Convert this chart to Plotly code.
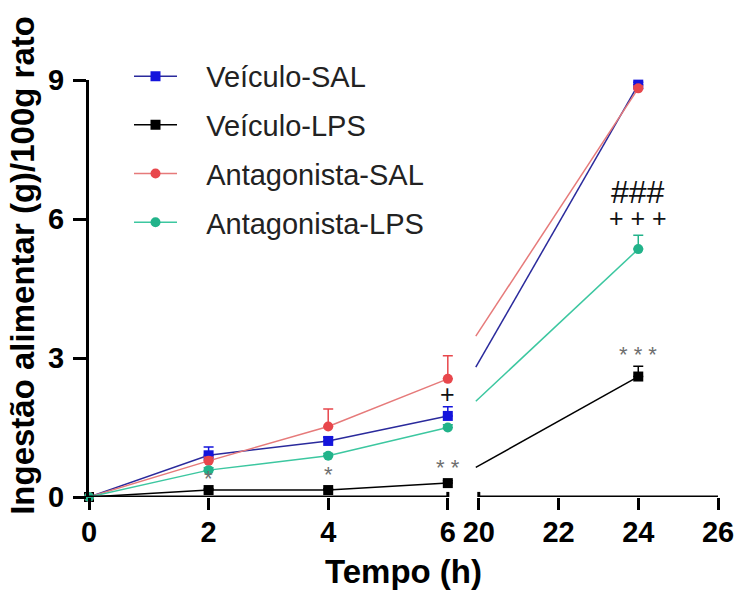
import plotly.graph_objects as go

# ---------------- data ----------------
times = [0, 2, 4, 6, 24]
x_tick_hours = [0, 2, 4, 6, 20, 22, 24, 26]
y_ticks = [0, 3, 6, 9]

series_names = ["Veículo-SAL", "Veículo-LPS", "Antagonista-SAL", "Antagonista-LPS"]
veiculo_sal = [0.0, 0.90, 1.21, 1.75, 8.90]
veiculo_sal_err = [0.0, 0.18, 0.08, 0.20, 0.05]
veiculo_lps = [0.0, 0.15, 0.15, 0.30, 2.60]
veiculo_lps_err = [0.0, 0.03, 0.03, 0.05, 0.22]
antag_sal = [0.0, 0.78, 1.52, 2.55, 8.82]
antag_sal_err = [0.0, 0.08, 0.38, 0.50, 0.05]
antag_lps = [0.0, 0.58, 0.89, 1.50, 5.35]
antag_lps_err = [0.0, 0.05, 0.05, 0.06, 0.30]

# significance labels: (time, value, text)
sig_labels = [
    (2, 0.40, "*"), (4, 0.48, "*"), (6, 0.64, "* *"), (24, 3.08, "* * *"),
]
plus_labels = [(6, 2.22, "+"), (24, 6.02, "+ + +")]
hash_labels = [(24, 6.58, "###")]

# ---------------- broken axis mapping ----------------
SEG1_END = 6
SEG2_START = 20
GAP = 0.518          # gap width in first-segment units
K2 = 2.0 / 3.0       # compression of second segment
U20 = SEG1_END + GAP


def u(t):
    return t if t <= SEG1_END else U20 + (t - SEG2_START) * K2


U_END = u(26)
U_CLIP = U20 - 0.05

FONT = "Liberation Sans, Arial, sans-serif"
NB = "\u00a0\u00a0\u00a0"

styles = [
    dict(mc="#1414dc", lc="#2a2a9c", sym="square"),
    dict(mc="#000000", lc="#000000", sym="square"),
    dict(mc="#e8474c", lc="#e67a7a", sym="circle"),
    dict(mc="#22b38a", lc="#3cc7a0", sym="circle"),
]
all_vals = [veiculo_sal, veiculo_lps, antag_sal, antag_lps]
all_errs = [veiculo_sal_err, veiculo_lps_err, antag_sal_err, antag_lps_err]

fig = go.Figure()

# connector lines across the axis break (visible only in the 2nd segment)
for vals, st in zip(all_vals, styles):
    u6, u24 = u(times[3]), u(times[4])
    y6, y24 = vals[3], vals[4]
    yc = y6 + (y24 - y6) * (U_CLIP - u6) / (u24 - u6)
    fig.add_trace(go.Scatter(
        x=[U_CLIP, u24], y=[yc, y24], mode="lines",
        line=dict(color=st["lc"], width=1.5),
        showlegend=False, hoverinfo="skip", cliponaxis=False))

for name, vals, errs, st in zip(series_names, all_vals, all_errs, styles):
    xs = [u(t) for t in times[:4]] + [None, u(times[4])]
    ys = vals[:4] + [None, vals[4]]
    es = errs[:4] + [0, errs[4]]
    fig.add_trace(go.Scatter(
        x=xs, y=ys, name=NB + name, mode="lines+markers",
        line=dict(color=st["lc"], width=1.5),
        marker=dict(color=st["mc"], symbol=st["sym"], size=10),
        error_y=dict(type="data", array=es, arrayminus=[0] * len(es),
                     symmetric=False, color=st["mc"], thickness=1.5, width=5),
        cliponaxis=False, legendgroup=name))

# x-axis line segments + break caps
shapes = [
    dict(type="line", xref="x", yref="y", x0=0, x1=u(6), y0=0, y1=0,
         line=dict(color="black", width=3)),
    dict(type="line", xref="x", yref="y", x0=U20, x1=U_END, y0=0, y1=0,
         line=dict(color="black", width=3)),
    dict(type="line", xref="x", yref="y", x0=u(6), x1=u(6), y0=0, y1=0.11,
         line=dict(color="black", width=3)),
    dict(type="line", xref="x", yref="y", x0=U20, x1=U20, y0=0, y1=0.11,
         line=dict(color="black", width=3)),
]

annotations = []
for t, v, txt in sig_labels:
    annotations.append(dict(x=u(t), y=v, xref="x", yref="y", text=txt,
                            showarrow=False, font=dict(family=FONT, size=22, color="#6e6e6e")))
for t, v, txt in plus_labels:
    annotations.append(dict(x=u(t), y=v, xref="x", yref="y", text=txt,
                            showarrow=False, font=dict(family=FONT, size=25, color="#111111")))
for t, v, txt in hash_labels:
    annotations.append(dict(x=u(t), y=v, xref="x", yref="y", text=txt,
                            showarrow=False, font=dict(family=FONT, size=32, color="#111111")))

# y-axis title as rotated annotation
annotations.append(dict(
    x=-0.107, y=0.556, xref="paper", yref="paper", xanchor="center", yanchor="middle",
    text="Ingestão alimentar (g)/100g rato", textangle=-90, showarrow=False,
    font=dict(family=FONT, size=33, color="black", weight="bold")))

fig.update_layout(
    width=736, height=593,
    margin=dict(l=89, r=18, t=80, b=96),
    paper_bgcolor="white", plot_bgcolor="white",
    shapes=shapes, annotations=annotations,
    legend=dict(x=0.0636, y=1.07, xanchor="left", yanchor="top",
                font=dict(family=FONT, size=29, color="#222222"),
                tracegroupgap=8, itemwidth=43, bgcolor="rgba(0,0,0,0)"),
    xaxis=dict(range=[0, U_END], showgrid=False, zeroline=False, showline=False,
               automargin=False,
               tickmode="array", tickvals=[u(t) for t in x_tick_hours],
               ticktext=[str(t) for t in x_tick_hours],
               ticks="outside", ticklen=12, tickwidth=3, tickcolor="black",
               ticklabelstandoff=-3,
               tickfont=dict(family=FONT, size=29, color="black", weight="bold"),
               title=dict(text="Tempo (h)", standoff=13,
                          font=dict(family=FONT, size=33, color="black", weight="bold"))),
    yaxis=dict(range=[0, 9], showgrid=False, zeroline=False, showline=True,
               automargin=False,
               linecolor="black", linewidth=3,
               tickmode="array", tickvals=y_ticks, ticktext=[str(v) for v in y_ticks],
               ticks="outside", ticklen=13, tickwidth=3, tickcolor="black",
               ticklabelstandoff=3,
               tickfont=dict(family=FONT, size=29, color="black", weight="bold")),
)

fig.write_html("out.html")
